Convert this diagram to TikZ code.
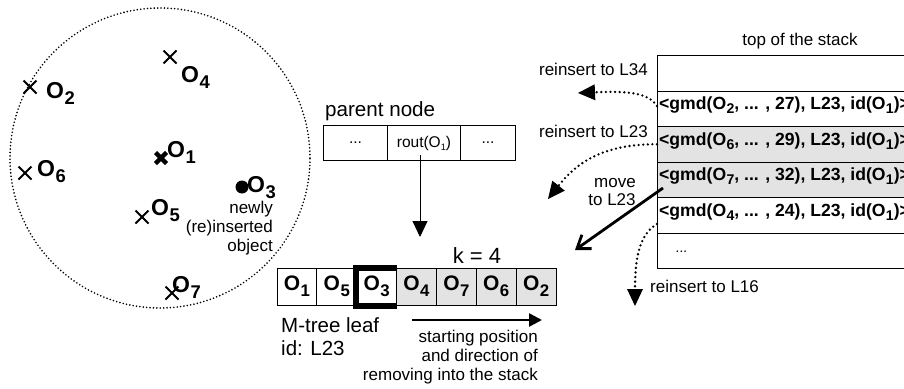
\documentclass[tikz,border=0pt]{standalone}
\usepackage{fontspec}
\setmainfont{Liberation Sans}
\usetikzlibrary{arrows.meta}
\newcommand{\Ob}[1]{O\kern0.02em\raisebox{-0.28em}{\scalebox{0.8}{#1}}}
\newcommand{\Os}[1]{O\raisebox{-0.2em}{\scalebox{0.6}{#1}}}
\definecolor{shade}{gray}{0.89}
\begin{document}
\begin{tikzpicture}[x=1pt,y=-1pt,
  lbl/.style={font=\fontsize{23}{26}\selectfont\bfseries, inner sep=0pt, anchor=base west},
  xm/.style={line width=1.8pt},
  cell/.style={draw, line width=1pt, minimum width=39.86pt, minimum height=37pt, inner sep=0pt, font=\fontsize{21}{24}\selectfont\bfseries},
  pcell/.style={draw, line width=1pt, minimum height=35pt, inner sep=0pt, font=\fontsize{15.5}{18}\selectfont},
  txt/.style={font=\fontsize{17}{19}\selectfont, inner sep=0pt, align=center},
  srow/.style={draw, line width=1pt, minimum width=300pt, minimum height=35.5pt, inner sep=0pt, anchor=north west},
  stxt/.style={font=\fontsize{17.6}{20}\selectfont\bfseries, inner sep=0pt, anchor=base west},
  dotarr/.style={line width=2.6pt, line cap=round, dash pattern=on 0pt off 4.6pt, -{Triangle[length=17pt,width=16pt,line width=0pt]}},
]
\useasboundingbox (0,0) rectangle (904,388);
\clip (0,0) rectangle (904,388);

% circle
\coordinate (cc) at (160,158);
\draw[line width=1.8pt, line cap=round, dash pattern=on 0pt off 3.4pt] (cc) circle[radius=150pt];

% points
\coordinate (p2) at (30,87);
\coordinate (p4) at (170,57);
\coordinate (p6) at (25,173);
\coordinate (p5) at (142,217);
\coordinate (p7) at (172,293);
\coordinate (p1) at (161,158);
\coordinate (p3) at (242,187);
\foreach \p in {p2,p4,p6,p5,p7}{
  \draw[xm] (\p) ++(-6.5,-6.5) -- ++(13,13) (\p) ++(6.5,-6.5) -- ++(-13,13);
}
\draw[line width=4.5pt] (p1) ++(-5.5,-5.5) -- ++(11,11) (p1) ++(5.5,-5.5) -- ++(-11,11);
\fill (p3) circle[radius=6.5pt];

\node[lbl] (l2) at (46,98) {\Ob{2}};
\node[lbl] (l4) at (181,82) {\Ob{4}};
\node[lbl] (l1) at (167,157) {\Ob{1}};
\node[lbl] (l6) at (37,176) {\Ob{6}};
\node[lbl] (l3) at (247,192) {\Ob{3}};
\node[lbl] (l5) at (151,215) {\Ob{5}};
\node[lbl] (l7) at (172,292) {\Ob{7}};
\node[font=\fontsize{17}{19}\selectfont, inner sep=0pt, align=right, anchor=base east] (newly) at (273,251) {newly\\(re)inserted\\object};

% parent node
\node[pcell, minimum width=64pt, anchor=north west] (pa) at (323,125) {...};
\node[pcell, minimum width=73pt, anchor=north west] (pb) at (387,125) {rout(\Os{1})};
\node[pcell, minimum width=55pt, anchor=north west] (pc) at (460,125) {...};
\node[font=\fontsize{20.6}{23}\selectfont, inner sep=0pt, anchor=base west] (pn) at (325,116) {parent node};

% leaf
\foreach \i/\c/\f in {1/1/white,2/5/white,3/3/white,4/4/shade,5/7/shade,6/6/shade,7/2/shade}{
  \node[cell, fill=\f] (c\i) at ({277+39.86*(\i-0.5)},286.5) {\Ob{\c}};
}
\draw[line width=6pt] (c3.north east) -- (c3.north west) -- (c3.south west) -- (c3.south east);
\draw[line width=6pt] ([yshift=-21pt]c3.north east) -- ([yshift=17pt]c3.south east);
\node[font=\fontsize{22}{24}\selectfont, inner sep=0pt, anchor=base] (k) at (477,263) {k = 4};

% arrow down from parent
\coordinate (pbot) at (420,155);
\coordinate (ptip) at (420,237);
\draw[line width=1pt, -{Triangle[length=16pt,width=15pt]}] (pbot) -- (ptip);

% direction arrow
\coordinate (da) at (412,320);
\coordinate (db) at (542,320);
\draw[line width=2.6pt, -{Triangle[length=13pt,width=13pt]}] (da) -- (db);

\node[font=\fontsize{20.5}{23}\selectfont, inner sep=0pt, align=left, anchor=base west] (leaf) at (281,355) {M-tree leaf\\id: L23};
\node[font=\fontsize{17}{19}\selectfont, inner sep=0pt, align=right, anchor=base east] (start) at (538,380) {starting position\\and direction of\\removing into the stack};

% stack
\node[txt, anchor=base] (top) at (800,45) {top of the stack};
\node[srow] (r0) at (657,55) {};
\node[srow] (r1) at (657,90.5) {};
\node[srow, fill=shade] (r2) at (657,126) {};
\node[srow, fill=shade] (r3) at (657,161.5) {};
\node[srow] (r4) at (657,197) {};
\node[srow] (r5) at (657,232.5) {};
\node[stxt] (t1) at (659,109) {<gmd(\Ob{2}, ... , 27), L23, id(\Ob{1})>};
\node[stxt] (t2) at (659,145) {<gmd(\Ob{6}, ... , 29), L23, id(\Ob{1})>};
\node[stxt] (t3) at (659,180) {<gmd(\Ob{7}, ... , 32), L23, id(\Ob{1})>};
\node[stxt] (t4) at (659,216) {<gmd(\Ob{4}, ... , 24), L23, id(\Ob{1})>};
\node[font=\fontsize{14}{16}\selectfont\itshape, inner sep=0pt, anchor=base west] (t5) at (676,252) {...};

% dotted arrows
\coordinate (e1) at (578,93);
\coordinate (e2) at (548,199);
\coordinate (e3) at (575,250);
\coordinate (e4) at (635,306);
\draw[dotarr] (657,106) .. controls (648,92) and (625,91) .. (e1);
\draw[dotarr] (r2.west) .. controls (600,144) and (575,165) .. (e2);
\draw[line width=2.8pt, -{Straight Barb[length=12pt,width=17pt,line width=2.8pt]}] (663,188) -- (e3);
\draw[dotarr] (657,224) .. controls (638,235) and (635,262) .. (e4);

\node[txt, anchor=base east] (a1) at (648,75) {reinsert to L34};
\node[txt, anchor=base east] (a2) at (648,137) {reinsert to L23};
\node[txt, anchor=base] (a3) at (615,187) {move};
\node[txt, anchor=base] (a3b) at (612,205) {to L23};
\node[txt, anchor=base west] (a4) at (650,292) {reinsert to L16};
\end{tikzpicture}
\end{document}
